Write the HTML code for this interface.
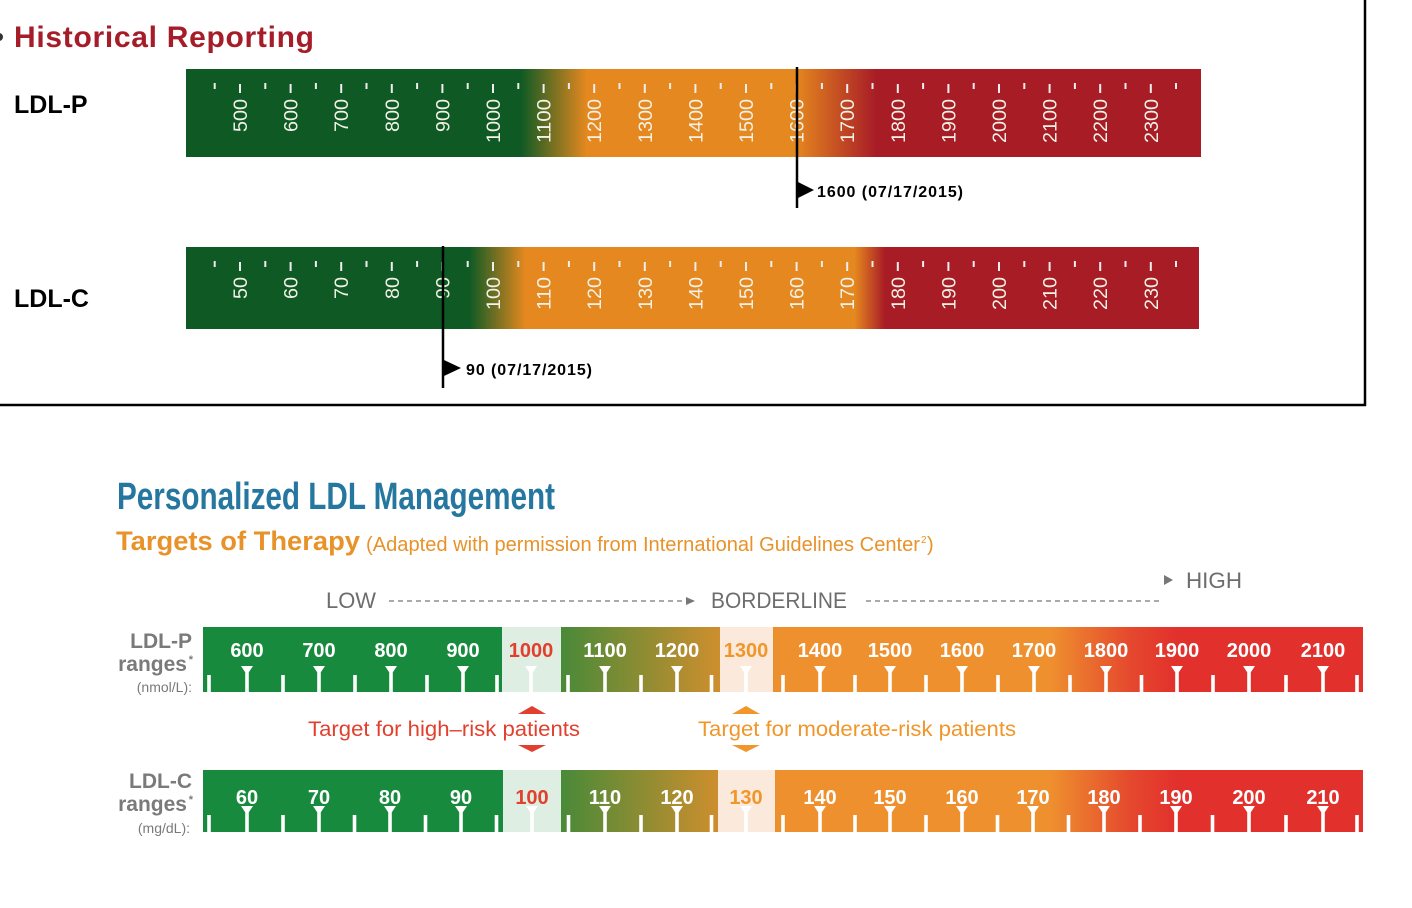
<!DOCTYPE html>
<html><head><meta charset="utf-8">
<style>
html,body{margin:0;padding:0;background:#fff;}
svg{display:block;font-family:"Liberation Sans",sans-serif;}
</style></head>
<body>
<svg id="s" width="1412" height="908" viewBox="0 0 1412 908" xmlns="http://www.w3.org/2000/svg">
<defs>
<linearGradient id="gP" x1="186" x2="1201" y1="0" y2="0" gradientUnits="userSpaceOnUse">
<stop offset="0" stop-color="#0f5a24"/>
<stop offset="0.33" stop-color="#0f5a24"/>
<stop offset="0.395" stop-color="#e5881f"/>
<stop offset="0.6" stop-color="#e5881f"/>
<stop offset="0.68" stop-color="#a81c26"/>
<stop offset="1" stop-color="#a81c26"/>
</linearGradient>
<linearGradient id="gC" x1="186" x2="1199" y1="0" y2="0" gradientUnits="userSpaceOnUse">
<stop offset="0" stop-color="#0f5a24"/>
<stop offset="0.28" stop-color="#0f5a24"/>
<stop offset="0.335" stop-color="#e5881f"/>
<stop offset="0.66" stop-color="#e5881f"/>
<stop offset="0.69" stop-color="#a81c26"/>
<stop offset="1" stop-color="#a81c26"/>
</linearGradient>
<linearGradient id="gB" x1="203" x2="1363" y1="0" y2="0" gradientUnits="userSpaceOnUse">
<stop offset="0" stop-color="#178a3e"/>
<stop offset="0.258" stop-color="#178a3e"/>
<stop offset="0.31" stop-color="#4a8a38"/>
<stop offset="0.44" stop-color="#c98e2e"/>
<stop offset="0.5" stop-color="#ee902e"/>
<stop offset="0.73" stop-color="#ee902e"/>
<stop offset="0.8" stop-color="#e5482e"/>
<stop offset="0.84" stop-color="#e2302c"/>
<stop offset="1" stop-color="#e2302c"/>
</linearGradient>
</defs>

<line x1="1365" y1="0" x2="1365" y2="406" stroke="#000" stroke-width="2.5"/>
<line x1="0" y1="405" x2="1366" y2="405" stroke="#000" stroke-width="2.5"/>
<circle cx="-1" cy="37" r="4" fill="#333"/>
<text x="14" y="47" font-size="30" font-weight="bold" fill="#a51d28" textLength="300">Historical Reporting</text>
<text x="14" y="113" font-size="25" font-weight="bold" fill="#000">LDL-P</text>
<text x="14" y="307" font-size="25" font-weight="bold" fill="#000">LDL-C</text>

<rect x="186" y="69" width="1015" height="88" fill="url(#gP)"/>
<rect x="186" y="247" width="1013" height="82" fill="url(#gC)"/>
<g id="topP"></g>
<g id="topC"></g>

<line x1="797" y1="67" x2="797" y2="208" stroke="#000" stroke-width="2.5"/>
<polygon points="798,182 814,190 798,198" fill="#000"/>
<text x="817" y="197" font-size="16" font-weight="bold" fill="#000" textLength="146">1600 (07/17/2015)</text>
<line x1="443" y1="246" x2="443" y2="388" stroke="#000" stroke-width="2.5"/>
<polygon points="444,360 461,368 444,376" fill="#000"/>
<text x="466" y="375" font-size="16" font-weight="bold" fill="#000" textLength="126">90 (07/17/2015)</text>

<text x="117" y="509" font-size="38" font-weight="bold" fill="#2677a0" textLength="438" lengthAdjust="spacingAndGlyphs">Personalized LDL Management</text>
<text x="116" y="550" font-size="27" font-weight="bold" fill="#e8922a" textLength="244" lengthAdjust="spacingAndGlyphs">Targets of Therapy</text>
<text x="366" y="551" font-size="20" fill="#e8922a" textLength="554" lengthAdjust="spacingAndGlyphs">(Adapted with permission from International Guidelines Center</text>
<text x="921" y="543" font-size="10" fill="#e8922a">2</text>
<text x="927" y="551" font-size="20" fill="#e8922a">)</text>

<text x="326" y="608" font-size="22" fill="#6d6d6d" textLength="50" lengthAdjust="spacingAndGlyphs">LOW</text>
<line x1="389" y1="601" x2="685" y2="601" stroke="#777" stroke-width="1.3" stroke-dasharray="5,4"/>
<polygon points="686,597 695,601 686,605" fill="#777"/>
<text x="711" y="608" font-size="22" fill="#6d6d6d" textLength="136" lengthAdjust="spacingAndGlyphs">BORDERLINE</text>
<line x1="866" y1="601" x2="1160" y2="601" stroke="#777" stroke-width="1.3" stroke-dasharray="5,4"/>
<polygon points="1164,575 1173,580 1164,585" fill="#777"/>
<text x="1186" y="588" font-size="22" fill="#6d6d6d" textLength="56" lengthAdjust="spacingAndGlyphs">HIGH</text>

<g fill="#7a7a7a" font-weight="bold" text-anchor="end">
<text x="192" y="648" font-size="21">LDL-P</text>
<text x="187" y="671" font-size="21">ranges</text>
<text x="193" y="663" font-size="11">*</text>
<text x="192" y="692" font-size="14" font-weight="normal">(nmol/L):</text>
<text x="192" y="788" font-size="21">LDL-C</text>
<text x="187" y="811" font-size="21">ranges</text>
<text x="193" y="803" font-size="11">*</text>
<text x="190" y="833" font-size="14" font-weight="normal">(mg/dL):</text>
</g>

<rect x="203" y="627" width="1160" height="65" fill="url(#gB)"/>
<rect x="502" y="627" width="59" height="65" fill="#dfeee2"/>
<rect x="720" y="627" width="53" height="65" fill="#fbeadb"/>
<rect x="203" y="770" width="1160" height="62" fill="url(#gB)"/>
<rect x="503" y="770" width="58" height="62" fill="#dfeee2"/>
<rect x="718" y="770" width="57" height="62" fill="#fbeadb"/>
<g id="botP"></g>
<g id="botC"></g>

<polygon points="518,714 532,706 546,714" fill="#e2402e"/>
<polygon points="518,745 532,752 546,745" fill="#e2402e"/>
<text x="444" y="736" font-size="21" fill="#e2402e" text-anchor="middle" textLength="272" lengthAdjust="spacingAndGlyphs">Target for high–risk patients</text>
<polygon points="732,714 746,706 760,714" fill="#f0962a"/>
<polygon points="732,745 746,752 760,745" fill="#f0962a"/>
<text x="857" y="736" font-size="21" fill="#f0962a" text-anchor="middle" textLength="318" lengthAdjust="spacingAndGlyphs">Target for moderate-risk patients</text>
</svg>
<script>
(function(){
var NS="http://www.w3.org/2000/svg";
function el(g,tag,a,txt){var e=document.createElementNS(NS,tag);for(var k in a)e.setAttribute(k,a[k]);if(txt!==undefined)e.textContent=txt;g.appendChild(e);return e;}
function drawTop(id,y0,start,step){
 var g=document.getElementById(id);
 for(var i=0;i<19;i++){
  var x=240+i*50.6, v=start+i*step;
  el(g,'line',{x1:x,y1:y0+15,x2:x,y2:y0+24,stroke:'#eee','stroke-width':2});
  el(g,'line',{x1:x-25.3,y1:y0+14,x2:x-25.3,y2:y0+20,stroke:'#eee','stroke-width':2});
  var s=String(v); var len=s.length*11;
  el(g,'text',{x:0,y:0,transform:'translate('+(x+7)+','+(y0+30)+') rotate(-90)','text-anchor':'end','font-size':19,fill:'#f2f2e8',textLength:len,lengthAdjust:'spacingAndGlyphs'},s);
 }
 el(g,'line',{x1:1176,y1:y0+14,x2:1176,y2:y0+20,stroke:'#eee','stroke-width':2});
}
drawTop('topP',69,500,100);
drawTop('topC',247,50,10);
var xsP=[247,319,391,463,531,605,677,746,820,890,962,1034,1106,1177,1249,1323];
var xsC=[247,319,390,461,532,605,677,746,820,890,962,1033,1104,1176,1249,1323];
function drawBot(id,y0,h,xs,vals,ty){
 var g=document.getElementById(id); var yb=y0+h;
 for(var i=0;i<xs.length;i++){
  var x=xs[i]; var c='#fff';
  var v=vals[i];
  if(i==4)c='#e2402e'; if(i==7)c='#f0962a';
  el(g,'text',{x:x,y:ty,'text-anchor':'middle','font-size':20,'font-weight':'bold',fill:c},String(v));
  el(g,'rect',{x:x-1.8,y:yb-23,width:3.6,height:23,fill:'#fff'});
  el(g,'polygon',{points:(x-6)+','+(yb-26)+' '+(x+6)+','+(yb-26)+' '+(x+2)+','+(yb-20)+' '+(x-2)+','+(yb-20),fill:'#fff'});
  var mx=(i==0)?209:(xs[i-1]+x)/2;
  el(g,'rect',{x:mx-1.8,y:yb-17,width:3.6,height:17,fill:'#fff'});
 }
 el(g,'rect',{x:1357-1.8,y:yb-17,width:3.6,height:17,fill:'#fff'});
}
drawBot('botP',627,65,xsP,[600,700,800,900,1000,1100,1200,1300,1400,1500,1600,1700,1800,1900,2000,2100],657);
drawBot('botC',770,62,xsC,[60,70,80,90,100,110,120,130,140,150,160,170,180,190,200,210],804);
})();
</script>
</body></html>
